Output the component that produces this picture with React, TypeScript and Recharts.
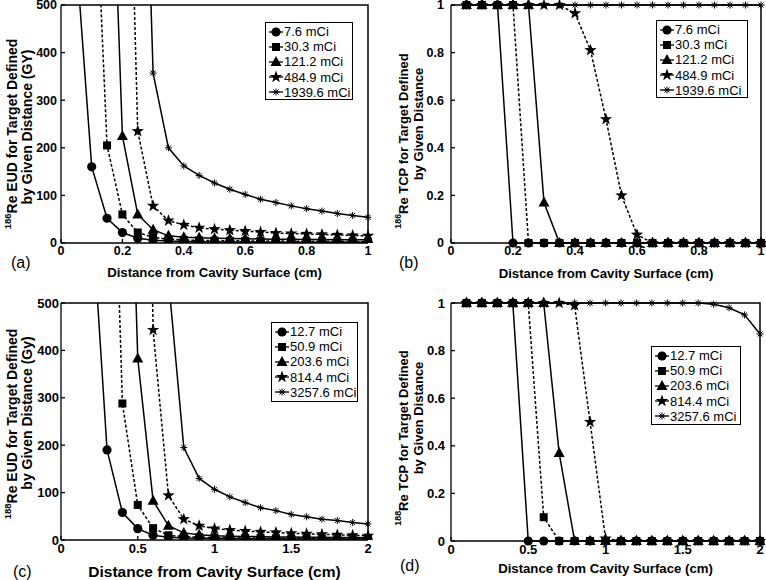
import React from 'react';
import { LineChart, Line, XAxis, YAxis, Label } from 'recharts';

const FONT = '"Liberation Sans", Arial, Helvetica, sans-serif';

// 186Re: distances (cm) and activities
const dist186 = [0.05, 0.1, 0.15, 0.2, 0.25, 0.3, 0.35, 0.4, 0.45, 0.5, 0.55, 0.6, 0.65, 0.7, 0.75, 0.8, 0.85, 0.9, 0.95, 1];
const act186 = ['7.6 mCi', '30.3 mCi', '121.2 mCi', '484.9 mCi', '1939.6 mCi'];

// (a) EUD in Gy, values above 500 run off the top of the axes
const eud186_7_6 = [600, 160, 52, 22, 10, 6, 4, 3, 2.5, 2, 2, 2, 2, 1.5, 1.5, 1.5, 1.5, 1.5, 1.5, 1.5];
const eud186_30_3 = [null, 942, 205, 60, 22, 12, 8, 6.5, 5.5, 5, 4.5, 4.5, 4, 4, 4, 3.5, 3.5, 3.5, 3, 3];
const eud186_121_2 = [null, null, 1142, 225, 60, 28, 15, 12, 11, 10, 9.5, 9, 8.5, 8, 8, 7.5, 7.5, 7, 7, 7];
const eud186_484_9 = [null, null, null, 1441, 235, 78, 47, 38, 32, 29, 27, 25, 23, 21, 20, 19, 18, 17, 16, 15];
const eud186_1939_6 = [null, null, null, null, 1400, 357, 200, 162, 142, 126, 113, 102, 92, 85, 78, 72, 67, 62, 58, 54];

// (b) TCP
const tcp186_7_6 = [1, 1, 1, 0, 0, 0, 0, 0, 0, 0, 0, 0, 0, 0, 0, 0, 0, 0, 0, 0];
const tcp186_30_3 = [1, 1, 1, 1, 0, 0, 0, 0, 0, 0, 0, 0, 0, 0, 0, 0, 0, 0, 0, 0];
const tcp186_121_2 = [1, 1, 1, 1, 1, 0.17, 0, 0, 0, 0, 0, 0, 0, 0, 0, 0, 0, 0, 0, 0];
const tcp186_484_9 = [1, 1, 1, 1, 1, 1, 1, 0.965, 0.81, 0.52, 0.2, 0.035, 0, 0, 0, 0, 0, 0, 0, 0];
const tcp186_1939_6 = [1, 1, 1, 1, 1, 1, 1, 1, 1, 1, 1, 1, 1, 1, 1, 1, 1, 1, 1, 1];

// 188Re
const dist188 = [0.1, 0.2, 0.3, 0.4, 0.5, 0.6, 0.7, 0.8, 0.9, 1, 1.1, 1.2, 1.3, 1.4, 1.5, 1.6, 1.7, 1.8, 1.9, 2];
const act188 = ['12.7 mCi', '50.9 mCi', '203.6 mCi', '814.4 mCi', '3257.6 mCi'];

// (c) EUD
const eud188_12_7 = [null, 698, 190, 58, 24, 10, 6, 4, 3.5, 3, 3, 2.5, 2.5, 2.5, 2, 2, 2, 2, 2, 2];
const eud188_50_9 = [null, null, 1350, 288, 74, 25, 10, 7, 6, 5, 4.5, 4, 4, 3.5, 3.5, 3.5, 3, 3, 3, 3];
const eud188_203_6 = [null, null, null, 1445, 383, 83, 30, 15, 11, 9, 8, 7.5, 7, 6.5, 6.5, 6, 6, 5.5, 5.5, 5];
const eud188_814_4 = [null, null, null, null, 2333, 443, 94, 44, 30, 24, 21, 19, 17, 16, 14, 13, 12, 11, 10, 9];
const eud188_3257_6 = [null, null, null, null, null, null, 550, 195, 130, 107, 91, 79, 68, 62, 54, 49, 44, 41, 37, 34];

// (d) TCP
const tcp188_12_7 = [1, 1, 1, 1, 0, 0, 0, 0, 0, 0, 0, 0, 0, 0, 0, 0, 0, 0, 0, 0];
const tcp188_50_9 = [1, 1, 1, 1, 1, 0.1, 0, 0, 0, 0, 0, 0, 0, 0, 0, 0, 0, 0, 0, 0];
const tcp188_203_6 = [1, 1, 1, 1, 1, 1, 0.37, 0, 0, 0, 0, 0, 0, 0, 0, 0, 0, 0, 0, 0];
const tcp188_814_4 = [1, 1, 1, 1, 1, 1, 1, 0.99, 0.5, 0.01, 0, 0, 0, 0, 0, 0, 0, 0, 0, 0];
const tcp188_3257_6 = [1, 1, 1, 1, 1, 1, 1, 1, 1, 1, 1, 1, 1, 1, 1, 1, 0.995, 0.98, 0.95, 0.87];

// ticks
const xTicks186 = [0, 0.2, 0.4, 0.6, 0.8, 1];
const xTicks188 = [0, 0.5, 1, 1.5, 2];
const eudTicks = [0, 100, 200, 300, 400, 500];
const tcpTicks = [0, 0.2, 0.4, 0.6, 0.8, 1];

// marker + dash per series (same order as activities)
const MARKERS = ['circle', 'square', 'triangle', 'star', 'asterisk'];
const DASHED = [false, true, false, true, false];

function starPoints(cx: number, cy: number, R: number, r: number) {
  const pts: string[] = [];
  for (let i = 0; i < 10; i++) {
    const a = -Math.PI / 2 + (i * Math.PI) / 5;
    const rad = i % 2 === 0 ? R : r;
    pts.push(`${cx + rad * Math.cos(a)},${cy + rad * Math.sin(a)}`);
  }
  return pts.join(' ');
}

function Marker({ kind, cx, cy }: { kind: string; cx: number; cy: number }) {
  switch (kind) {
    case 'circle':
      return <circle cx={cx} cy={cy} r={4.6} fill="#000" />;
    case 'square':
      return <rect x={cx - 4} y={cy - 4} width={8} height={8} fill="#000" />;
    case 'triangle':
      return <polygon points={`${cx},${cy - 6} ${cx - 5.5},${cy + 4} ${cx + 5.5},${cy + 4}`} fill="#000" />;
    case 'star':
      return <polygon points={starPoints(cx, cy, 6.5, 2.6)} fill="#000" />;
    default: {
      const r = 3.5;
      const d = r * 0.72;
      return (
        <g stroke="#000" strokeWidth={1}>
          <line x1={cx - r} y1={cy} x2={cx + r} y2={cy} />
          <line x1={cx} y1={cy - r} x2={cx} y2={cy + r} />
          <line x1={cx - d} y1={cy - d} x2={cx + d} y2={cy + d} />
          <line x1={cx - d} y1={cy + d} x2={cx + d} y2={cy - d} />
        </g>
      );
    }
  }
}

function dotFor(kind: string) {
  return (p: any) => {
    if (p.cx == null || p.cy == null || p.value == null || Number.isNaN(p.cy)) {
      return <g key={`d-${p.index}`} />;
    }
    return (
      <g key={`d-${p.index}`}>
        <Marker kind={kind} cx={p.cx} cy={p.cy} />
      </g>
    );
  };
}

function LegendBox({ names, left, top, width, height }: { names: string[]; left: number; top: number; width: number; height: number }) {
  return (
    <div
      style={{
        position: 'absolute', left, top, width, height, boxSizing: 'border-box',
        border: '1px solid #000', background: '#fff', fontFamily: FONT, fontSize: 13,
        paddingTop: 1, paddingLeft: 2,
      }}
    >
      {names.map((n, k) => (
        <div key={n} style={{ display: 'flex', alignItems: 'center', height: 15.2 }}>
          <svg width={16} height={14} style={{ flexShrink: 0 }}>
            <line x1={1} y1={7} x2={15} y2={7} stroke="#000" strokeWidth={1.3} />
            <Marker kind={MARKERS[k]} cx={8} cy={7} />
          </svg>
          <span style={{ whiteSpace: 'nowrap' }}>{n}</span>
        </div>
      ))}
    </div>
  );
}

interface PanelProps {
  left: number;
  top: number;
  margin: { top: number; right: number; left: number; bottom: number };
  yAxisWidth: number;
  xAxisHeight: number;
  dist: number[];
  series: (number | null)[][];
  names: string[];
  xMax: number;
  xTicks: number[];
  yMax: number;
  yTicks: number[];
  clip: boolean;
  yTickMargin: number;
  xTickMargin: number;
  tickFont: number;
  iso: string;
  line1: string;
  line2: string;
  yl: { x1: number; y1: number; x2: number; y2: number; size: number };
  xl: { y: number; size: number };
  tag: { text: string; x: number; y: number };
  legend: { left: number; top: number; width: number; height: number };
}

const CHART_W = 383;
const CHART_H = 290;

function Panel(p: PanelProps) {
  const rows = p.dist.map((d, i) => {
    const r: Record<string, number | null> = { d };
    p.series.forEach((s, k) => {
      r['s' + k] = s[i];
    });
    return r;
  });
  const tickStyle = { fontSize: p.tickFont, fontWeight: 'bold', fill: '#000', fontFamily: FONT };
  const axisStroke = { stroke: '#000', strokeWidth: 1.3 };
  const supSize = p.yl.size * 0.68;

  // plot frame (matlab box), same rectangle the chart gets from its margins
  const boxLeft = p.margin.left + p.yAxisWidth;
  const boxTop = p.margin.top;
  const boxRight = CHART_W - p.margin.right;
  const boxBottom = CHART_H - p.xAxisHeight - p.margin.bottom;

  const yLabel = () => (
    <g fontFamily={FONT} fontWeight="bold" fill="#000">
      <text
        transform={`translate(${p.yl.x1},${p.yl.y1}) rotate(-90)`}
        textAnchor="middle"
        dominantBaseline="central"
        fontSize={p.yl.size}
      >
        <tspan fontSize={supSize} dy={-p.yl.size * 0.38}>{p.iso}</tspan>
        <tspan dy={p.yl.size * 0.38}>{p.line1}</tspan>
      </text>
      <text
        transform={`translate(${p.yl.x2},${p.yl.y2}) rotate(-90)`}
        textAnchor="middle"
        dominantBaseline="central"
        fontSize={p.yl.size}
      >
        {p.line2}
      </text>
    </g>
  );

  const xLabel = (props: any) => {
    const vb = props.viewBox || {};
    return (
      <text
        x={vb.x + vb.width / 2}
        y={p.xl.y}
        textAnchor="middle"
        fontFamily={FONT}
        fontWeight="bold"
        fontSize={p.xl.size}
        fill="#000"
      >
        Distance from Cavity Surface (cm)
      </text>
    );
  };

  // last activity drawn first so the circles end on top, as in the figure
  const order = [4, 3, 2, 1, 0];

  return (
    <div style={{ position: 'absolute', left: p.left, top: p.top, width: CHART_W, height: CHART_H }}>
      <LineChart width={CHART_W} height={CHART_H} data={rows} margin={p.margin}>
        <XAxis
          dataKey="d"
          type="number"
          domain={[0, p.xMax]}
          ticks={p.xTicks}
          height={p.xAxisHeight}
          tickSize={-4}
          tickMargin={p.xTickMargin}
          tick={tickStyle}
          axisLine={axisStroke}
          tickLine={axisStroke}
          interval={0}
          label={<Label content={xLabel} />}
        />
        <YAxis
          type="number"
          domain={[0, p.yMax]}
          ticks={p.yTicks}
          allowDataOverflow={p.clip}
          width={p.yAxisWidth}
          tickSize={-4}
          tickMargin={p.yTickMargin}
          tick={tickStyle}
          axisLine={axisStroke}
          tickLine={axisStroke}
          interval={0}
          label={<Label content={yLabel} />}
        />
        {order.map((k) => (
          <Line
            key={k}
            type="linear"
            dataKey={'s' + k}
            name={p.names[k]}
            stroke="#000"
            strokeWidth={1.5}
            strokeDasharray={DASHED[k] ? '3 2' : undefined}
            dot={dotFor(MARKERS[k])}
            activeDot={false}
            connectNulls={false}
            isAnimationActive={false}
          />
        ))}
      </LineChart>
      {/* top and right edges of the axes box */}
      <svg
        width={CHART_W}
        height={CHART_H}
        style={{ position: 'absolute', left: 0, top: 0, pointerEvents: 'none', overflow: 'visible' }}
      >
        <polyline
          points={`${boxLeft},${boxTop} ${boxRight},${boxTop} ${boxRight},${boxBottom}`}
          fill="none"
          stroke="#000"
          strokeWidth={1.5}
        />
      </svg>
      <div
        style={{
          position: 'absolute', left: p.tag.x, top: p.tag.y, fontFamily: FONT,
          fontSize: 16, lineHeight: '16px', whiteSpace: 'nowrap',
        }}
      >
        {p.tag.text}
      </div>
      <LegendBox names={p.names} {...p.legend} />
    </div>
  );
}

export default function App() {
  return (
    <div style={{ position: 'absolute', left: 0, top: 0, width: 766, height: 580, background: '#fff', overflow: 'hidden' }}>
      <Panel
        left={0}
        top={0}
        margin={{ top: 5, right: 15, left: 0, bottom: 0 }}
        yAxisWidth={61}
        xAxisHeight={47}
        dist={dist186}
        series={[eud186_7_6, eud186_30_3, eud186_121_2, eud186_484_9, eud186_1939_6]}
        names={act186}
        xMax={1}
        xTicks={xTicks186}
        yMax={500}
        yTicks={eudTicks}
        clip
        yTickMargin={8}
        xTickMargin={7}
        tickFont={12.5}
        iso="186"
        line1="Re EUD for Target Defined"
        line2="by Given Distance (GY)"
        yl={{ x1: 12, y1: 134, x2: 27, y2: 127, size: 14 }}
        xl={{ y: 277, size: 13.2 }}
        tag={{ text: '(a)', x: 11, y: 255 }}
        legend={{ left: 265, top: 22, width: 88, height: 78 }}
      />
      <Panel
        left={383}
        top={0}
        margin={{ top: 5, right: 5, left: 0, bottom: 0 }}
        yAxisWidth={68}
        xAxisHeight={47}
        dist={dist186}
        series={[tcp186_7_6, tcp186_30_3, tcp186_121_2, tcp186_484_9, tcp186_1939_6]}
        names={act186}
        xMax={1}
        xTicks={xTicks186}
        yMax={1}
        yTicks={tcpTicks}
        clip={false}
        yTickMargin={11}
        xTickMargin={7}
        tickFont={12.5}
        iso="186"
        line1="Re TCP for Target Defined"
        line2="by Given Distance"
        yl={{ x1: 20, y1: 141, x2: 35, y2: 124, size: 13 }}
        xl={{ y: 278, size: 13.2 }}
        tag={{ text: '(b)', x: 16, y: 255 }}
        legend={{ left: 273, top: 20, width: 92, height: 78 }}
      />
      <Panel
        left={0}
        top={290}
        margin={{ top: 13, right: 15, left: 0, bottom: 0 }}
        yAxisWidth={61}
        xAxisHeight={40}
        dist={dist188}
        series={[eud188_12_7, eud188_50_9, eud188_203_6, eud188_814_4, eud188_3257_6]}
        names={act188}
        xMax={2}
        xTicks={xTicks188}
        yMax={500}
        yTicks={eudTicks}
        clip
        yTickMargin={6}
        xTickMargin={8}
        tickFont={13}
        iso="188"
        line1="Re EUD for Target Defined"
        line2="by Given Distance (Gy)"
        yl={{ x1: 12, y1: 134, x2: 27, y2: 123, size: 14 }}
        xl={{ y: 287, size: 15.5 }}
        tag={{ text: '(c)', x: 13, y: 274 }}
        legend={{ left: 271, top: 32, width: 87, height: 80 }}
      />
      <Panel
        left={383}
        top={290}
        margin={{ top: 13, right: 6, left: 0, bottom: 0 }}
        yAxisWidth={68}
        xAxisHeight={39}
        dist={dist188}
        series={[tcp188_12_7, tcp188_50_9, tcp188_203_6, tcp188_814_4, tcp188_3257_6]}
        names={act188}
        xMax={2}
        xTicks={xTicks188}
        yMax={1}
        yTicks={tcpTicks}
        clip={false}
        yTickMargin={10}
        xTickMargin={8}
        tickFont={13}
        iso="188"
        line1="Re TCP for Target Defined"
        line2="by Given Distance"
        yl={{ x1: 20, y1: 148, x2: 35, y2: 128, size: 13 }}
        xl={{ y: 283, size: 13.2 }}
        tag={{ text: '(d)', x: 17, y: 268 }}
        legend={{ left: 268, top: 56, width: 90, height: 79 }}
      />
    </div>
  );
}
